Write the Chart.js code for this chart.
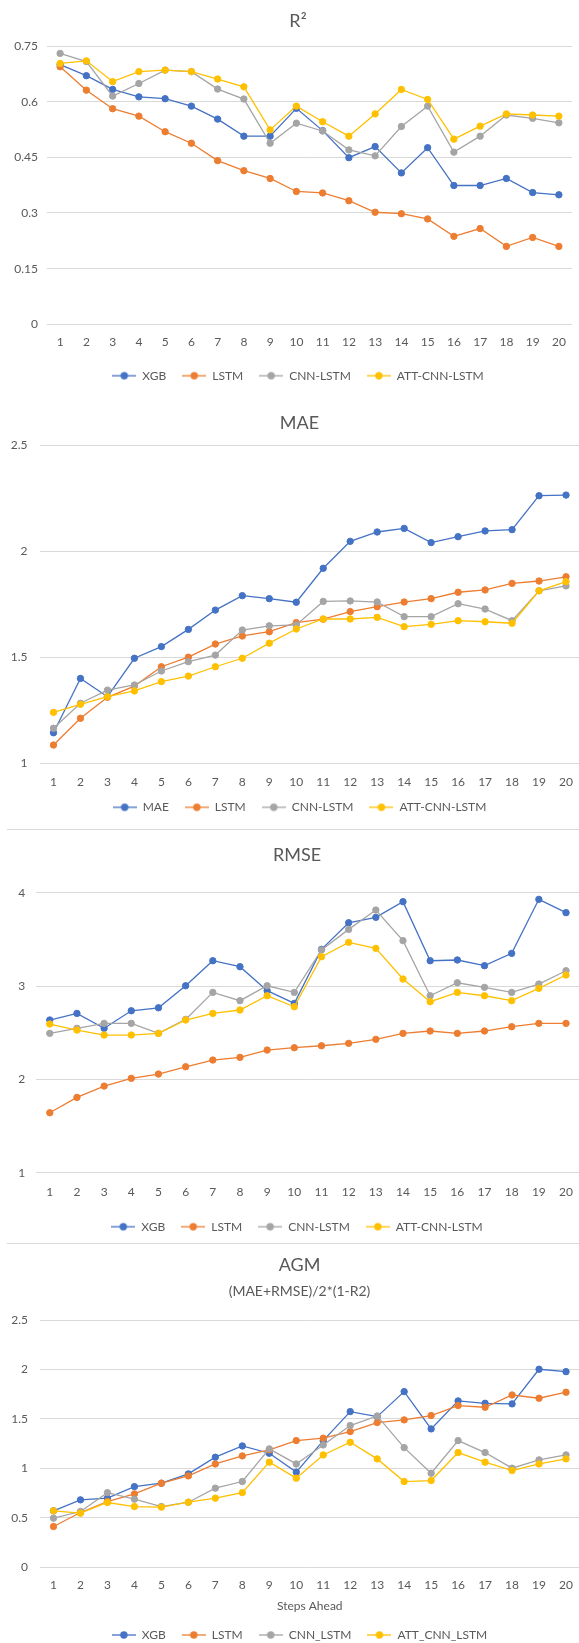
<!DOCTYPE html>
<html>
<head>
<meta charset="utf-8">
<title>R2 / MAE / RMSE / AGM</title>
<script src="https://cdn.jsdelivr.net/npm/chart.js@4.4.1/dist/chart.umd.min.js"></script>
<style>
  html, body { margin: 0; padding: 0; background: #fff; overflow: hidden; }
  body { width: 579px; height: 1643px; position: relative; }
  canvas { position: absolute; left: 0; }
  .sep { position: absolute; left: 7px; width: 572px; height: 1px; background: #d9d9d9; }
</style>
</head>
<body>
<canvas id="r2Chart" width="600" height="395" style="top:0px"></canvas>
<canvas id="maeChart" width="600" height="434" style="top:395px"></canvas>
<div class="sep" style="top:829px"></div>
<canvas id="rmseChart" width="600" height="413" style="top:830px"></canvas>
<div class="sep" style="top:1243px"></div>
<canvas id="agmChart" width="600" height="407" style="top:1244px"></canvas>
<script>
// x축 카테고리 (steps ahead)
const steps = ['1', '2', '3', '4', '5', '6', '7', '8', '9', '10',
               '11', '12', '13', '14', '15', '16', '17', '18', '19', '20'];

// R2
const r2Xgb  = [0.70, 0.67, 0.633, 0.613, 0.608, 0.588, 0.553, 0.507, 0.507, 0.582, 0.522, 0.449, 0.479, 0.408, 0.476, 0.374, 0.374, 0.393, 0.355, 0.349];
const r2Lstm = [0.694, 0.631, 0.581, 0.561, 0.519, 0.488, 0.441, 0.414, 0.393, 0.358, 0.354, 0.333, 0.302, 0.298, 0.284, 0.237, 0.258, 0.210, 0.234, 0.210];
const r2Cnn  = [0.730, 0.708, 0.615, 0.649, 0.685, 0.681, 0.634, 0.607, 0.488, 0.542, 0.521, 0.470, 0.454, 0.533, 0.588, 0.464, 0.507, 0.564, 0.555, 0.543];
const r2Att  = [0.703, 0.710, 0.654, 0.681, 0.685, 0.681, 0.661, 0.640, 0.524, 0.588, 0.546, 0.507, 0.567, 0.633, 0.606, 0.499, 0.534, 0.567, 0.564, 0.561];

// MAE
const maeXgb  = [1.144, 1.400, 1.314, 1.495, 1.550, 1.631, 1.722, 1.790, 1.776, 1.759, 1.919, 2.046, 2.090, 2.107, 2.040, 2.068, 2.095, 2.101, 2.261, 2.264];
const maeLstm = [1.086, 1.212, 1.311, 1.364, 1.455, 1.500, 1.562, 1.600, 1.620, 1.663, 1.679, 1.715, 1.738, 1.760, 1.776, 1.806, 1.817, 1.848, 1.859, 1.879];
const maeCnn  = [1.165, 1.283, 1.345, 1.369, 1.435, 1.479, 1.510, 1.628, 1.648, 1.652, 1.763, 1.765, 1.760, 1.691, 1.691, 1.752, 1.727, 1.672, 1.813, 1.836];
const maeAtt  = [1.240, 1.278, 1.314, 1.341, 1.385, 1.411, 1.455, 1.495, 1.566, 1.633, 1.680, 1.680, 1.688, 1.644, 1.655, 1.672, 1.667, 1.660, 1.813, 1.856];

// RMSE
const rmseXgb  = [2.636, 2.707, 2.547, 2.735, 2.767, 3.003, 3.271, 3.207, 2.950, 2.814, 3.393, 3.678, 3.736, 3.904, 3.271, 3.279, 3.218, 3.350, 3.929, 3.786];
const rmseLstm = [1.642, 1.807, 1.928, 2.011, 2.057, 2.135, 2.207, 2.236, 2.314, 2.339, 2.360, 2.386, 2.429, 2.493, 2.518, 2.493, 2.518, 2.564, 2.600, 2.600];
const rmseCnn  = [2.493, 2.547, 2.600, 2.600, 2.493, 2.643, 2.932, 2.843, 3.003, 2.932, 3.386, 3.607, 3.814, 3.486, 2.896, 3.035, 2.986, 2.932, 3.021, 3.164];
const rmseAtt  = [2.593, 2.528, 2.475, 2.475, 2.493, 2.636, 2.707, 2.743, 2.896, 2.778, 3.314, 3.468, 3.404, 3.075, 2.832, 2.932, 2.896, 2.843, 2.975, 3.118];

// AGM = (MAE+RMSE)/2*(1-R2)
const agmXgb  = [0.571, 0.682, 0.699, 0.816, 0.850, 0.944, 1.113, 1.227, 1.153, 0.962, 1.280, 1.574, 1.523, 1.776, 1.399, 1.682, 1.658, 1.652, 2.002, 1.978];
const agmLstm = [0.412, 0.554, 0.665, 0.742, 0.850, 0.924, 1.045, 1.126, 1.187, 1.281, 1.305, 1.372, 1.463, 1.490, 1.534, 1.635, 1.618, 1.742, 1.709, 1.770];
const agmCnn  = [0.497, 0.564, 0.755, 0.689, 0.614, 0.658, 0.800, 0.867, 1.197, 1.045, 1.237, 1.433, 1.530, 1.210, 0.951, 1.281, 1.160, 1.002, 1.086, 1.136];
const agmAtt  = [0.571, 0.547, 0.655, 0.614, 0.608, 0.658, 0.699, 0.755, 1.063, 0.901, 1.136, 1.264, 1.096, 0.867, 0.877, 1.160, 1.063, 0.978, 1.045, 1.096];

// y축 눈금
const r2Ticks   = [0, 0.15, 0.3, 0.45, 0.6, 0.75];
const maeTicks  = [1, 1.5, 2, 2.5];
const rmseTicks = [1, 2, 3, 4];
const agmTicks  = [0, 0.5, 1, 1.5, 2, 2.5];

const seriesColors = ['#4472C4', '#ED7D31', '#A5A5A5', '#FFC000'];
const textColor = '#595959';
const gridColor = '#d9d9d9';

Chart.defaults.font.family = 'Lato';

// 범례 마커 (선 + 원)
function makeMarker(color) {
    const c = document.createElement('canvas');
    c.width = 24;
    c.height = 10;
    const g = c.getContext('2d');
    g.strokeStyle = color;
    g.lineWidth = 1.3;
    g.beginPath();
    g.moveTo(0, 5);
    g.lineTo(24, 5);
    g.stroke();
    g.fillStyle = color;
    g.beginPath();
    g.arc(12, 5, 3.7, 0, Math.PI * 2);
    g.fill();
    return c;
}
const markers = seriesColors.map(makeMarker);

// 제목/범례 위치 보정 (레이아웃 후 이동)
const boxShift = {
    id: 'boxShift',
    afterLayout(chart, args, opts) {
        chart.boxes.forEach(b => {
            if (b.fullSize) {
                b.left += opts.dx;
                b.right += opts.dx;
            }
        });
        if (chart.legend && opts.legendDy) {
            chart.legend.top += opts.legendDy;
            chart.legend.bottom += opts.legendDy;
        }
    }
};

function makeChart(id, cfg) {
    const datasets = cfg.series.map((values, i) => ({
        label: cfg.names[i],
        data: values,
        borderColor: seriesColors[i],
        backgroundColor: seriesColors[i],
        pointBackgroundColor: seriesColors[i],
        pointBorderColor: seriesColors[i],
        borderWidth: 1.3,
        pointRadius: 3.2,
        pointBorderWidth: 1,
        tension: 0,
        order: 4 - i   // 노란색이 맨 위
    }));

    return new Chart(document.getElementById(id), {
        type: 'line',
        data: { labels: steps, datasets: datasets },
        plugins: [boxShift],
        options: {
            responsive: false,
            animation: false,
            layout: { padding: cfg.padding },
            plugins: {
                boxShift: { dx: cfg.dx, legendDy: cfg.legendDy || 0 },
                title: {
                    display: true,
                    text: cfg.title,
                    color: textColor,
                    font: { size: 18, weight: 'normal' },
                    padding: cfg.titlePad
                },
                subtitle: {
                    display: !!cfg.subtitle,
                    text: cfg.subtitle || '',
                    color: textColor,
                    font: { size: 14, weight: 'normal' },
                    padding: cfg.subPad || 0
                },
                legend: {
                    position: 'bottom',
                    labels: {
                        usePointStyle: true,
                        pointStyleWidth: 24,
                        padding: 16,
                        color: textColor,
                        font: { size: 12 },
                        sort: (a, b) => a.datasetIndex - b.datasetIndex,
                        generateLabels: chart =>
                            Chart.defaults.plugins.legend.labels.generateLabels(chart).map(item => {
                                item.pointStyle = markers[item.datasetIndex];
                                return item;
                            })
                    }
                },
                tooltip: { enabled: false }
            },
            scales: {
                x: {
                    offset: true,
                    grid: { display: false, drawTicks: false },
                    border: { display: false },
                    ticks: {
                        color: textColor,
                        font: { size: 12 },
                        padding: cfg.xPad,
                        maxRotation: 0,
                        autoSkip: false
                    },
                    title: {
                        display: !!cfg.xTitle,
                        text: cfg.xTitle || '',
                        color: textColor,
                        font: { size: 12 },
                        padding: { top: 0, bottom: 0 }
                    },
                    afterFit: s => { s.height = cfg.xHeight; }
                },
                y: {
                    min: cfg.ticks[0],
                    max: cfg.ticks[cfg.ticks.length - 1],
                    grid: { color: gridColor, drawTicks: false },
                    border: { display: false },
                    ticks: {
                        color: textColor,
                        font: { size: 12 },
                        padding: cfg.yPad,
                        callback: v => String(v)
                    },
                    afterBuildTicks: s => { s.ticks = cfg.ticks.map(v => ({ value: v })); },
                    afterFit: s => { s.width = cfg.yWidth; }
                }
            }
        }
    });
}

makeChart('r2Chart', {
    title: 'R²',
    names: ['XGB', 'LSTM', 'CNN-LSTM', 'ATT-CNN-LSTM'],
    series: [r2Xgb, r2Lstm, r2Cnn, r2Att],
    ticks: r2Ticks,
    padding: { left: 0, right: 28, top: 0, bottom: 3.3 },
    dx: 12,
    titlePad: { top: 10.2, bottom: 14.2 },
    yWidth: 47, yPad: 9,
    xPad: 10.2, xHeight: 29.4
});

makeChart('maeChart', {
    title: 'MAE',
    names: ['MAE', 'LSTM', 'CNN-LSTM', 'ATT-CNN-LSTM'],
    series: [maeXgb, maeLstm, maeCnn, maeAtt],
    ticks: maeTicks,
    padding: { left: 0, right: 20.5, top: 0, bottom: 0.7 },
    dx: 9.75,
    legendDy: -5,
    titlePad: { top: 17.2, bottom: 11.2 },
    yWidth: 40, yPad: 12.5,
    xPad: 11.2, xHeight: 27
});

makeChart('rmseChart', {
    title: 'RMSE',
    names: ['XGB', 'LSTM', 'CNN-LSTM', 'ATT-CNN-LSTM'],
    series: [rmseXgb, rmseLstm, rmseCnn, rmseAtt],
    ticks: rmseTicks,
    padding: { left: 0, right: 20.4, top: 0, bottom: 0.3 },
    dx: 7.2,
    titlePad: { top: 14.7, bottom: 26.4 },
    yWidth: 36.2, yPad: 11,
    xPad: 11.8, xHeight: 32
});

makeChart('agmChart', {
    title: 'AGM',
    subtitle: '(MAE+RMSE)/2*(1-R2)',
    names: ['XGB', 'LSTM', 'CNN_LSTM', 'ATT_CNN_LSTM'],
    series: [agmXgb, agmLstm, agmCnn, agmAtt],
    ticks: agmTicks,
    padding: { left: 0, right: 20.5, top: 0, bottom: 0 },
    dx: 9.75,
    titlePad: { top: 10.2, bottom: 0 },
    subPad: { top: 6.8, bottom: 20.6 },
    yWidth: 40, yPad: 12,
    xPad: 10.5, xHeight: 45.7,
    xTitle: 'Steps Ahead'
});
</script>
</body>
</html>
